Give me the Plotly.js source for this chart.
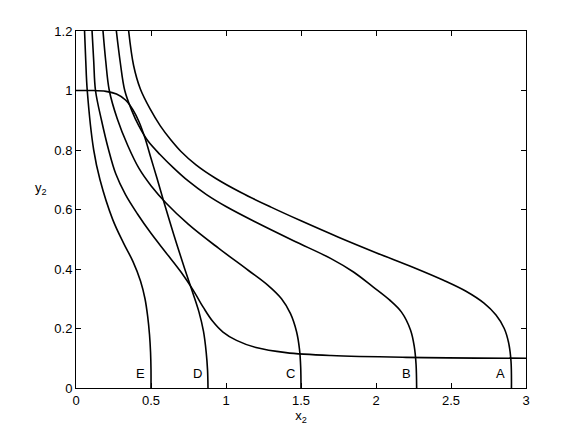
<!DOCTYPE html>
<html>
<head>
<meta charset="utf-8">
<script src="https://cdn.plot.ly/plotly-3.0.1.min.js"></script>
<style>
  html, body { margin: 0; padding: 0; background: #fff; }
  #chart { width: 581px; height: 437px; }
</style>
</head>
<body>
<div id="chart"></div>
<script>
// curves, x2 / y2 pairs
const eX = [0.057, 0.065, 0.075, 0.118, 0.16, 0.245, 0.317, 0.38, 0.43, 0.46, 0.478, 0.49, 0.497, 0.5, 0.5];
const eY = [1.2, 1.1, 1.0, 0.80, 0.70, 0.566, 0.487, 0.425, 0.36, 0.30, 0.24, 0.18, 0.12, 0.06, 0];

const dX = [0, 0.1, 0.2, 0.27, 0.33, 0.38, 0.42, 0.46, 0.5, 0.54, 0.58, 0.625, 0.675, 0.725, 0.775, 0.82, 0.85, 0.868, 0.877, 0.88];
const dY = [1.0, 1.0, 0.997, 0.988, 0.968, 0.935, 0.895, 0.84, 0.772, 0.705, 0.635, 0.56, 0.478, 0.40, 0.325, 0.255, 0.19, 0.12, 0.06, 0];

const fX = [0.107, 0.118, 0.13, 0.17, 0.215, 0.265, 0.33, 0.41, 0.5, 0.6, 0.7, 0.78, 0.85, 0.91, 0.98, 1.07, 1.2, 1.4, 1.7, 2.2, 3.0];
const fY = [1.2, 1.1, 1.0, 0.9, 0.805, 0.72, 0.65, 0.585, 0.52, 0.455, 0.39, 0.33, 0.27, 0.225, 0.188, 0.16, 0.136, 0.119, 0.109, 0.103, 0.1];

const cX = [0.18, 0.198, 0.222, 0.275, 0.345, 0.42, 0.5, 0.6, 0.75, 0.95, 1.15, 1.28, 1.37, 1.43, 1.47, 1.49, 1.498, 1.5];
const cY = [1.2, 1.1, 1.0, 0.905, 0.815, 0.738, 0.68, 0.622, 0.55, 0.47, 0.395, 0.345, 0.30, 0.25, 0.19, 0.13, 0.07, 0];

const bX = [0.269, 0.295, 0.325, 0.37, 0.42, 0.48, 0.56, 0.65, 0.75, 0.87, 1.0, 1.2, 1.45, 1.7, 1.85, 1.98, 2.09, 2.17, 2.23, 2.255, 2.267, 2.271];
const bY = [1.2, 1.095, 1.0, 0.935, 0.88, 0.83, 0.785, 0.74, 0.695, 0.65, 0.61, 0.557, 0.495, 0.435, 0.39, 0.34, 0.296, 0.255, 0.195, 0.14, 0.08, 0];

const aX = [0.351, 0.384, 0.429, 0.495, 0.562, 0.629, 0.7, 0.8, 0.93, 1.1, 1.3, 1.5, 1.75, 2.0, 2.25, 2.45, 2.6, 2.72, 2.8, 2.855, 2.885, 2.9, 2.903];
const aY = [1.2, 1.084, 1.005, 0.937, 0.881, 0.836, 0.795, 0.75, 0.705, 0.657, 0.608, 0.562, 0.507, 0.455, 0.405, 0.362, 0.325, 0.285, 0.245, 0.2, 0.15, 0.09, 0];

const curveNames = ['E', 'D', 'C', 'B', 'A'];
const labelX = [0.429, 0.811, 1.429, 2.202, 2.833];
const labelY = 0.048;

const xTicks = [0, 0.5, 1, 1.5, 2, 2.5, 3];
const xTickText = ['0', '0.5', '1', '1.5', '2', '2.5', '3'];
const yTicks = [0, 0.2, 0.4, 0.6, 0.8, 1, 1.2];
const yTickText = ['0', '0.2', '0.4', '0.6', '0.8', '1', '1.2'];

const line = { color: '#000', width: 1.6, shape: 'spline', smoothing: 1 };
const curves = [[eX, eY], [dX, dY], [fX, fY], [cX, cY], [bX, bY], [aX, aY]];
const data = curves.map(c => ({
  x: c[0], y: c[1], type: 'scatter', mode: 'lines',
  line: line, hoverinfo: 'skip', showlegend: false
}));

const font = { family: 'Liberation Sans, Arial, sans-serif', size: 13, color: '#000' };

const annotations = curveNames.map((n, i) => ({
  x: labelX[i], y: labelY, xref: 'x', yref: 'y', text: n,
  showarrow: false, font: font
}));
annotations.push({
  xref: 'paper', yref: 'paper', x: -0.06, y: 0.56, text: 'y<sub>2</sub>',
  showarrow: false, font: font, xanchor: 'right'
});

const axis = {
  showline: true, linecolor: '#000', linewidth: 1, mirror: 'allticks',
  ticks: 'inside', ticklen: 5, tickcolor: '#000', tickwidth: 1,
  showgrid: false, zeroline: false, tickfont: font, tickmode: 'array'
};

const layout = {
  width: 581, height: 437,
  margin: { l: 76, r: 55, t: 31, b: 49 },
  paper_bgcolor: '#fff', plot_bgcolor: '#fff',
  xaxis: Object.assign({}, axis, {
    range: [0, 3], tickvals: xTicks, ticktext: xTickText,
    title: { text: 'x<sub>2</sub>', font: font, standoff: 4 }
  }),
  yaxis: Object.assign({}, axis, {
    range: [0, 1.2], tickvals: yTicks, ticktext: yTickText
  }),
  annotations: annotations,
  showlegend: false
};

Plotly.newPlot('chart', data, layout, { staticPlot: true });
</script>
</body>
</html>
